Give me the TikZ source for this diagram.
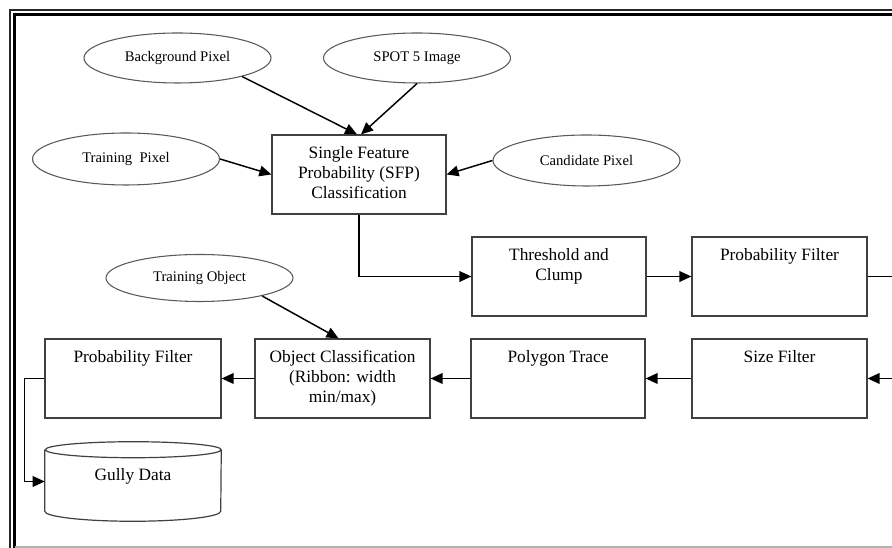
\documentclass[tikz,border=0pt]{standalone}
\usepackage{fontspec}
\setmainfont{Liberation Serif}
\usetikzlibrary{shapes.geometric,arrows.meta}
\begin{document}
\begin{tikzpicture}[x=0.75pt,y=0.75pt,
  boxst/.style={draw=black!75, line width=0.9pt, rectangle, inner sep=0pt,
    minimum width=175*0.75pt, minimum height=79*0.75pt},
  ellst/.style={draw=black!65, line width=0.8pt, ellipse, inner sep=0pt,
    minimum width=187*0.75pt, minimum height=50*0.75pt,
    font=\fontsize{11}{13}\selectfont},
  boxtxt/.style={font=\fontsize{13}{14.8}\selectfont, align=center,
    inner sep=0pt, anchor=north},
  ghost/.style={rectangle, inner sep=0pt, minimum width=176*0.75pt, minimum height=79*0.75pt},
  cylst/.style={draw=black!75, line width=0.9pt},
  conn/.style={line width=1.1pt, black, -{Triangle[length=9pt,width=8pt]}},
  plain/.style={line width=1.1pt, black},
  frameout/.style={line width=1.1pt, black!85},
  framein/.style={line width=1.7pt, black},
  framebot/.style={line width=1.1pt, black!30}
]
\useasboundingbox (0,0) rectangle (892,548);
% frame
\draw[frameout] (10,0) -- (10,538) -- (892,538);
\draw[framein] (14.5,0) -- (14.5,533.5) -- (892,533.5);
\draw[framebot] (14.5,1) -- (892,1);

% ellipses
\node[ellst] (bg) at (177.5,490) {Background Pixel};
\node[ellst] (spot) at (417,490) {SPOT 5 Image};
\node[ellst, minimum height=52*0.75pt] (tp) at (126,389) {Training\enspace Pixel};
\node[ellst, minimum height=51*0.75pt] (cp) at (586.5,387.5) {Candidate Pixel};
\node[ellst, minimum height=47*0.75pt] (to) at (199.5,270) {Training Object};

% boxes
\node[boxst, minimum width=174*0.75pt] (sfp) at (359,373.5) {};
\node[boxtxt] (sfpt) at ([yshift=-9pt]sfp.north) {Single Feature\\Probability (SFP)\\Classification};
\node[boxst, minimum width=174*0.75pt] (thr) at (559,271.5) {};
\node[boxtxt] (thrt) at ([yshift=-9pt]thr.north) {Threshold and\\Clump};
\node[boxst] (pft) at (779.5,271.5) {};
\node[boxtxt] (pftt) at ([yshift=-9pt]pft.north) {Probability Filter};
\node[boxst] (size) at (779.5,169.5) {};
\node[boxtxt] (sizet) at ([yshift=-9pt]size.north) {Size Filter};
\node[boxst, minimum width=174*0.75pt] (poly) at (558,169.5) {};
\node[boxtxt] (polyt) at ([yshift=-9pt]poly.north) {Polygon Trace};
\node[boxst] (obj) at (342.5,169.5) {};
\node[boxtxt] (objt) at ([yshift=-9pt]obj.north) {Object Classification\\(Ribbon: width\\min/max)};
\node[boxst, minimum width=176*0.75pt] (pfl) at (133,169.5) {};
\node[boxtxt] (pflt) at ([yshift=-9pt]pfl.north) {Probability Filter};

% cylinder
\node[ghost] (gully) at (133,66.5) {};
\draw[cylst] ([yshift=-6pt]gully.north west) -- ([yshift=7.5pt]gully.south west)
  arc[start angle=180, end angle=360, x radius=88, y radius=10]
  -- ([yshift=-6pt]gully.north east)
  arc[start angle=0, end angle=360, x radius=88, y radius=8];
\node[boxtxt] (gullyt) at ([yshift=-19.5pt]gully.north) {Gully Data};

% off-page ends
\coordinate (offa) at (892,271.5);
\coordinate (offb) at (892,169.5);

% connectors
\draw[conn] (bg.-16) -- ([xshift=-1.5pt]sfp.north);
\draw[conn] (spot.south) -- ([xshift=1.5pt]sfp.north);
\draw[conn] (tp.east) -- (sfp.west);
\draw[conn] (cp.west) -- (sfp.east);
\draw[conn] (sfp.south) |- (thr.west);
\draw[conn] (thr.east) -- (pft.west);
\draw[plain] (pft.east) -- (offa);
\draw[conn] (offb) -- (size.east);
\draw[conn] (size.west) -- (poly.east);
\draw[conn] (poly.west) -- (obj.east);
\draw[conn] (obj.west) -- (pfl.east);
\draw[conn] (to.-16) -- ([xshift=-3pt]obj.north);
\draw[conn] (pfl.west) -- ++(-20,0) |- (gully.west);
\end{tikzpicture}
\end{document}
